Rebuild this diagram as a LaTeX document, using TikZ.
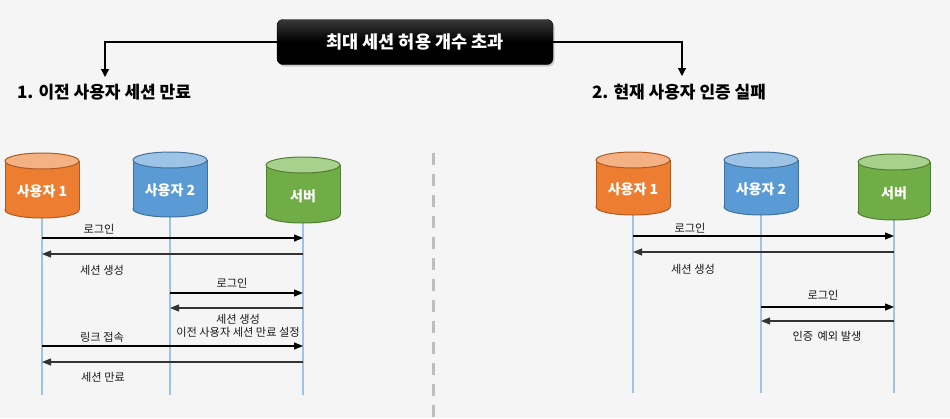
\documentclass[tikz,border=0pt]{standalone}
\usepackage{fontspec}
\setmainfont{Noto Sans CJK KR}
\usetikzlibrary{arrows.meta,shadows}
\definecolor{bg}{HTML}{F5F5F5}
\definecolor{orbody}{HTML}{ED7D31}
\definecolor{ortop}{HTML}{F4B183}
\definecolor{orline}{HTML}{AE5A21}
\definecolor{blbody}{HTML}{5B9BD5}
\definecolor{bltop}{HTML}{9DC3E6}
\definecolor{blline}{HTML}{41719C}
\definecolor{grbody}{HTML}{70AD47}
\definecolor{grtop}{HTML}{A9D18E}
\definecolor{grline}{HTML}{507E32}
\definecolor{life}{HTML}{9DC3E6}
\definecolor{divider}{HTML}{BEBEBE}
\tikzset{
  msg/.style={draw=black, line width=1.1pt, -{Triangle[length=9pt,width=7pt]}},
  back/.style={draw=black!80, line width=1.1pt, -{Triangle[length=9pt,width=7pt]}},
  lifeline/.style={draw=life, line width=1.4pt},
  lbl/.style={font=\fontsize{11.2}{13.5}\selectfont, text=black!90, inner sep=0pt},
  cyllbl/.style={font=\fontsize{14}{16}\selectfont\bfseries, text=white, inner sep=0pt},
  headtxt/.style={font=\fontsize{17}{20}\selectfont\bfseries, text=black, inner sep=0pt},
  tree/.style={draw=black, line width=1.1pt, -{Triangle[length=8pt,width=8pt]}}
}
% \mycyl{name}{cx}{top}{bottom}{halfwidth}{body}{top}{line}{label}
\newcommand{\mycyl}[9]{%
  \filldraw[fill=#6, draw=#8, line width=1pt] (#2,#4) ellipse ({#5} and 8);
  \fill[#6] ({#2-#5},#3) rectangle ({#2+#5},#4);
  \draw[#8, line width=1pt] ({#2-#5},#3) -- ({#2-#5},#4) ({#2+#5},#3) -- ({#2+#5},#4);
  \filldraw[fill=#7, draw=#8, line width=1pt] (#2,#3) ellipse ({#5} and 8);
  \node[cyllbl] (#1) at (#2,{(#3+#4)/2+6}) {#9};
}
\begin{document}
\begin{tikzpicture}[x=1pt,y=-1pt]
\fill[bg] (0,0) rectangle (950,418);
\useasboundingbox (0,0) rectangle (950,418);

% title
\node[rounded corners=6pt, minimum width=276pt, minimum height=45pt,
      top color=black!78, bottom color=black, middle color=black, draw=black,
      drop shadow={shadow xshift=1.5pt, shadow yshift=-2pt, opacity=0.35},
      font=\fontsize{17.5}{20}\selectfont\bfseries, text=white] (title) at (415,42) {최대 세션 허용 개수 초과};

\node[headtxt] (h1) at (104,92) {1. 이전 사용자 세션 만료};
\node[headtxt] (h2) at (679,92) {2. 현재 사용자 인증 실패};
\coordinate (a1) at (105,77);
\coordinate (a2) at (682,76);
\draw[tree] (title.west) -| (a1);
\draw[tree] (title.east) -| (a2);

% divider
\draw[divider, line width=3pt, dash pattern=on 12pt off 9pt] (433,153) -- (433,418);

% ---------- left scenario ----------
\coordinate (e1) at (42,395);
\coordinate (e2) at (170,395);
\coordinate (e3) at (303,395);
\draw[lifeline] (42,215) -- (e1);
\draw[lifeline] (170,215) -- (e2);
\draw[lifeline] (303,220) -- (e3);
\mycyl{u1}{42}{161}{210}{37}{orbody}{ortop}{orline}{사용자 1}
\mycyl{u2}{170}{160}{209}{37}{blbody}{bltop}{blline}{사용자 2}
\mycyl{sv}{303}{165}{215}{37}{grbody}{grtop}{grline}{서버}

\draw[msg] (e1 |- 0,238) -- (e3 |- 0,238);
\node[lbl] (l1) at (99,229) {로그인};
\draw[back] (e3 |- 0,254) -- (e1 |- 0,254);
\node[lbl] (l2) at (102,270) {세션 생성};
\draw[msg] (e2 |- 0,293) -- (e3 |- 0,293);
\node[lbl] (l3) at (232,283) {로그인};
\draw[back] (e3 |- 0,308) -- (e2 |- 0,308);
\node[lbl, align=center] (l4) at (238,326) {세션 생성\\이전 사용자 세션 만료 설정};
\draw[msg] (e1 |- 0,346) -- (e3 |- 0,346);
\node[lbl] (l5) at (102,337) {링크 접속};
\draw[back] (e3 |- 0,362) -- (e1 |- 0,362);
\node[lbl] (l6) at (103,377) {세션 만료};

% ---------- right scenario ----------
\coordinate (f1) at (633,393);
\coordinate (f2) at (761,393);
\coordinate (f3) at (894,393);
\draw[lifeline] (633,212) -- (f1);
\draw[lifeline] (761,212) -- (f2);
\draw[lifeline] (894,217) -- (f3);
\mycyl{r1}{633}{160}{207}{37}{orbody}{ortop}{orline}{사용자 1}
\mycyl{r2}{761}{160}{207}{37}{blbody}{bltop}{blline}{사용자 2}
\mycyl{rs}{894}{162}{212}{36}{grbody}{grtop}{grline}{서버}

\draw[msg] (f1 |- 0,236) -- (f3 |- 0,236);
\node[lbl] (m1) at (690,228) {로그인};
\draw[back] (f3 |- 0,252) -- (f1 |- 0,252);
\node[lbl] (m2) at (693,269) {세션 생성};
\draw[msg] (f2 |- 0,307) -- (f3 |- 0,307);
\node[lbl] (m3) at (823,295) {로그인};
\draw[back] (f3 |- 0,321) -- (f2 |- 0,321);
\node[lbl] (m4) at (827,336) {인증 \,예외 발생};
\end{tikzpicture}
\end{document}
